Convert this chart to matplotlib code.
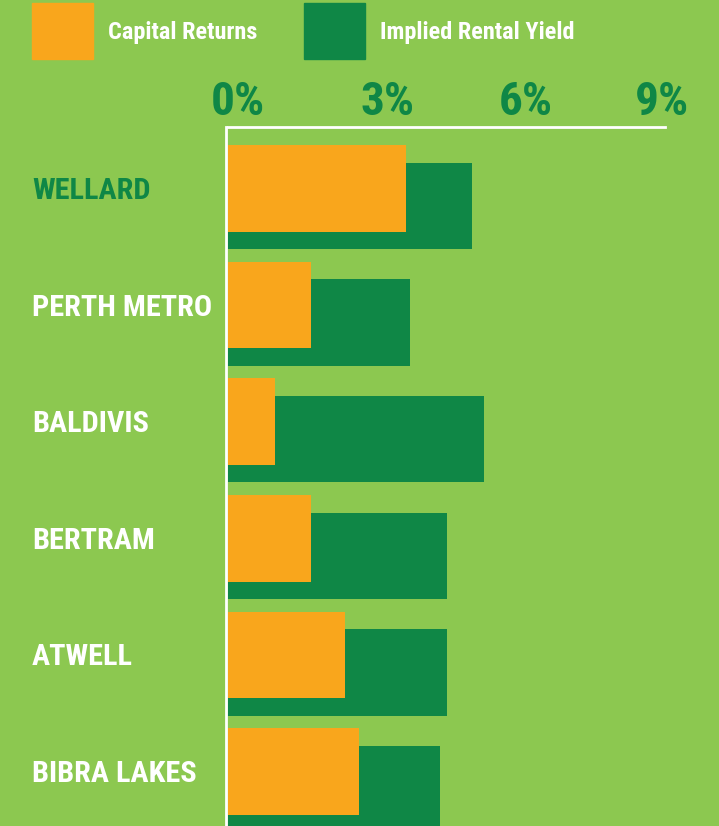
import matplotlib
matplotlib.use("Agg")
import matplotlib.pyplot as plt
from matplotlib import font_manager as fm
from matplotlib.patches import Rectangle
from matplotlib.transforms import ScaledTranslation, blended_transform_factory

# ---- data ----
categories = ["WELLARD", "PERTH METRO", "BALDIVIS", "BERTRAM", "ATWELL", "BIBRA LAKES"]
capital_returns = [3.67, 1.71, 0.97, 1.71, 2.40, 2.70]
rental_yield = [5.02, 3.74, 5.27, 4.52, 4.52, 4.37]
tick_values = [0, 3, 6, 9]
tick_labels = ["0%", "3%", "6%", "9%"]
legend_labels = ["Capital Returns", "Implied Rental Yield"]
highlight = "WELLARD"

# ---- style ----
BG = "#8CC850"
ORANGE = "#F9A61C"
GREEN = "#0F8746"
WHITE = "#FFFFFF"

available = {f.name for f in fm.fontManager.ttflist}
prefs = ["Roboto Condensed", "Archivo Narrow", "PT Sans Narrow", "Barlow Condensed",
         "Liberation Sans Narrow", "Arial Narrow", "Open Sans Condensed", "Fira Sans Condensed",
         "IBM Plex Sans Condensed", "Encode Sans Condensed"]
chosen = next((p for p in prefs if p in available), "DejaVu Sans")
FONT = [chosen, "DejaVu Sans"]
plt.rcParams["font.family"] = FONT

W, H, DPI = 719, 826, 100
fig = plt.figure(figsize=(W / DPI, H / DPI), dpi=DPI, facecolor=BG)

ax_left, ax_right, ax_top = 228, 665, 127
ax = fig.add_axes([ax_left / W, 0, (ax_right - ax_left) / W, (H - ax_top) / H])
ax.set_facecolor(BG)

unit = 116.6  # px per category
bar_h = 86.5 / unit
green_off = 17.5 / unit
top_pad = 61.5 / unit
ax.set_ylim(-top_pad + (H - ax_top) / unit, -top_pad)
ax.set_xlim(0, 9)

ypos = list(range(len(categories)))
ax.barh([y + green_off for y in ypos], rental_yield, height=bar_h, color=GREEN, zorder=1)
ax.barh(ypos, capital_returns, height=bar_h, color=ORANGE, zorder=2)

for s in ["right", "bottom"]:
    ax.spines[s].set_visible(False)
for s in ["left", "top"]:
    ax.spines[s].set_color(WHITE)
    ax.spines[s].set_linewidth(2.0)
    ax.spines[s].set_zorder(3)
ax.spines["left"].set_position(("outward", 1.5))
ax.set_xticks([])
ax.set_yticks([])

# tick labels (top)
offsets_px = [10, 14, 6, -3]
tr_base = blended_transform_factory(ax.transData, ax.transAxes)
for v, lab, dx in zip(tick_values, tick_labels, offsets_px):
    tr = tr_base + ScaledTranslation(dx / DPI, 12 / DPI, fig.dpi_scale_trans)
    ax.text(v, 1, lab, transform=tr, ha="center", va="baseline",
            fontsize=34, fontweight="bold", color=GREEN, clip_on=False)

# category labels
label_x = (32 - ax_left) / (ax_right - ax_left)
for y, name in zip(ypos, categories):
    ax.text(label_x, y + 10.5 / unit, name, transform=ax.get_yaxis_transform(),
            ha="left", va="baseline", fontsize=21.8, fontweight="bold",
            color=GREEN if name == highlight else WHITE, clip_on=False)

# legend
leg_items = [(32, ORANGE, 108), (304, GREEN, 380)]
for (sx, col, tx), lab in zip(leg_items, legend_labels):
    fig.patches.append(Rectangle((sx / W, 1 - 59 / H), 61 / W, 56 / H,
                                 transform=fig.transFigure, color=col))
    fig.text(tx / W, 1 - 39 / H, lab, ha="left", va="baseline",
             fontsize=17.5, fontweight="bold", color=WHITE)

fig.savefig("out.png", dpi=DPI, facecolor=BG)
